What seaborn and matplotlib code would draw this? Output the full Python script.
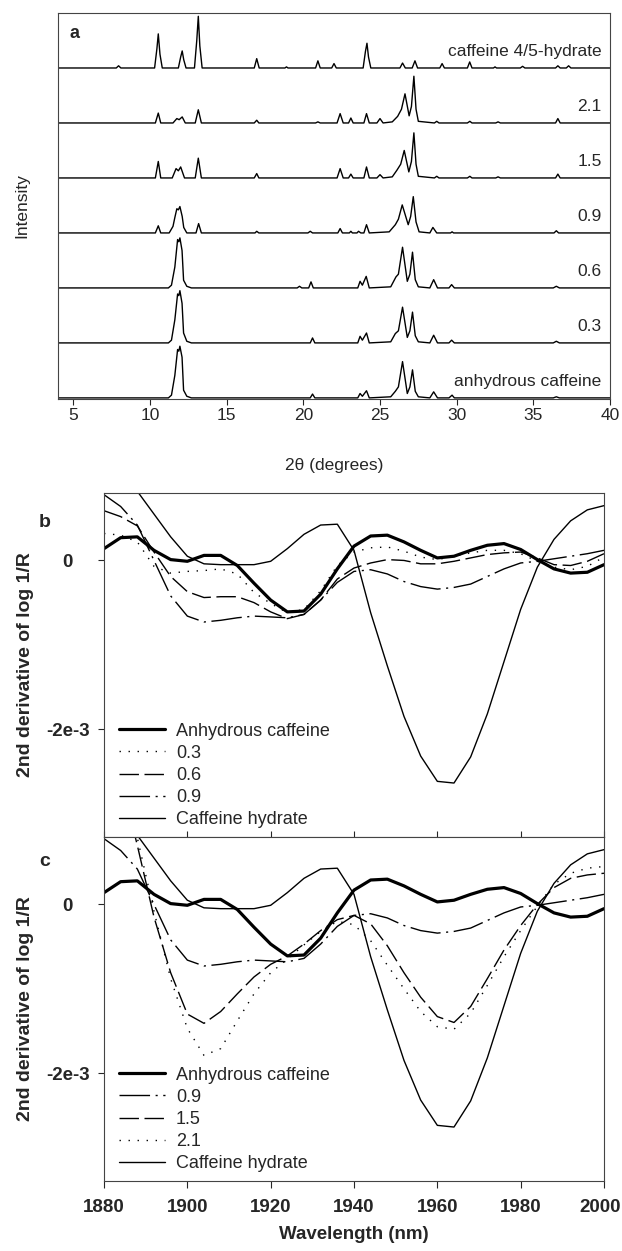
import numpy as np
import pandas as pd
import matplotlib
matplotlib.use('Agg')
import matplotlib.pyplot as plt
import matplotlib.transforms as mtransforms
import seaborn as sns

# ---- panel a: powder XRD traces, (2theta, intensity above own baseline) ----
xrd_hydrate = [(4.0, 0), (7.8, 0), (7.95, 0.04), (8.1, 0),
               (10.3, 0), (10.45, 0.35), (10.54, 0.62), (10.65, 0.25), (10.8, 0),
               (11.85, 0), (12.0, 0.2), (12.1, 0.31), (12.2, 0.15), (12.35, 0),
               (12.9, 0), (13.05, 0.5), (13.15, 0.94), (13.25, 0.4), (13.4, 0),
               (16.8, 0), (16.96, 0.17), (17.12, 0), (18.8, 0), (18.9, 0.02), (19.0, 0),
               (20.8, 0), (20.95, 0.13), (21.1, 0), (21.85, 0), (22.0, 0.08), (22.15, 0),
               (23.9, 0), (24.05, 0.3), (24.15, 0.45), (24.25, 0.2), (24.4, 0),
               (26.3, 0), (26.47, 0.09), (26.65, 0), (27.1, 0), (27.28, 0.13), (27.45, 0),
               (28.9, 0), (29.05, 0.08), (29.2, 0), (30.7, 0), (30.85, 0.11), (31.0, 0),
               (32.4, 0), (32.5, 0.02), (32.6, 0), (34.15, 0), (34.3, 0.03), (34.45, 0),
               (36.45, 0), (36.6, 0.04), (36.75, 0), (37.15, 0), (37.3, 0.04), (37.45, 0),
               (40.0, 0)]
xrd_21 = [(4.0, 0), (10.35, 0), (10.54, 0.18), (10.7, 0),
          (11.5, 0), (11.75, 0.08), (11.9, 0.06), (12.1, 0.11), (12.3, 0),
          (12.95, 0), (13.15, 0.24), (13.35, 0), (16.8, 0), (16.96, 0.05), (17.1, 0),
          (20.8, 0), (20.95, 0.02), (21.1, 0),
          (22.2, 0), (22.4, 0.17), (22.6, 0), (22.95, 0), (23.1, 0.09), (23.25, 0),
          (23.95, 0), (24.12, 0.17), (24.3, 0), (24.8, 0), (25.0, 0.08), (25.2, 0),
          (25.8, 0.02), (26.15, 0.12), (26.4, 0.25), (26.63, 0.53), (26.9, 0.13),
          (27.05, 0.3), (27.21, 0.85), (27.35, 0.25), (27.5, 0.03),
          (28.55, 0), (28.7, 0.03), (28.85, 0), (30.7, 0), (30.86, 0.03), (31.0, 0),
          (32.55, 0), (32.7, 0.02), (32.85, 0), (36.45, 0), (36.6, 0.08), (36.75, 0),
          (40.0, 0)]
xrd_15 = [(4.0, 0), (10.35, 0), (10.54, 0.30), (10.7, 0),
          (11.45, 0), (11.7, 0.17), (11.85, 0.13), (12.0, 0.20), (12.25, 0),
          (12.95, 0), (13.15, 0.36), (13.35, 0), (16.8, 0), (16.96, 0.08), (17.1, 0),
          (22.2, 0), (22.4, 0.17), (22.6, 0), (22.95, 0), (23.1, 0.07), (23.25, 0),
          (23.95, 0), (24.12, 0.20), (24.3, 0), (24.8, 0), (25.0, 0.06), (25.2, 0),
          (25.8, 0.02), (26.1, 0.14), (26.35, 0.25), (26.58, 0.50), (26.88, 0.11),
          (27.05, 0.3), (27.21, 0.82), (27.35, 0.25), (27.5, 0.03),
          (28.55, 0), (28.7, 0.03), (28.85, 0), (30.7, 0), (30.86, 0.03), (31.0, 0),
          (32.55, 0), (32.7, 0.02), (32.85, 0), (36.45, 0), (36.6, 0.07), (36.75, 0),
          (40.0, 0)]
xrd_09 = [(4.0, 0), (10.35, 0), (10.54, 0.13), (10.7, 0),
          (11.25, 0), (11.5, 0.12), (11.62, 0.28), (11.75, 0.44), (11.85, 0.42),
          (11.95, 0.48), (12.1, 0.3), (12.2, 0.1), (12.4, 0),
          (13.0, 0), (13.17, 0.17), (13.35, 0), (16.85, 0), (16.96, 0.03), (17.1, 0),
          (20.3, 0), (20.45, 0.03), (20.6, 0),
          (22.25, 0), (22.4, 0.08), (22.55, 0), (23.0, 0), (23.1, 0.03), (23.2, 0),
          (23.5, 0), (23.6, 0.03), (23.75, 0), (23.95, 0), (24.12, 0.15), (24.3, 0),
          (25.6, 0.02), (26.0, 0.15), (26.2, 0.25), (26.45, 0.51), (26.84, 0.15),
          (27.0, 0.3), (27.17, 0.66), (27.35, 0.2), (27.55, 0.02),
          (28.25, 0), (28.45, 0.10), (28.7, 0), (29.6, 0), (29.7, 0.02), (29.8, 0),
          (36.35, 0), (36.5, 0.04), (36.65, 0), (40.0, 0)]
xrd_06 = [(4.0, 0), (11.2, 0), (11.4, 0.05), (11.62, 0.38), (11.8, 0.88), (11.88, 0.84),
          (11.95, 0.91), (12.09, 0.68), (12.19, 0.14), (12.4, 0.03), (12.7, 0),
          (19.6, 0), (19.75, 0.03), (19.9, 0), (20.35, 0), (20.5, 0.11), (20.65, 0),
          (23.55, 0), (23.7, 0.12), (23.85, 0.05), (24.1, 0.21), (24.3, 0),
          (25.7, 0.02), (26.04, 0.20), (26.2, 0.25), (26.47, 0.74), (26.78, 0.12),
          (26.95, 0.25), (27.12, 0.65), (27.3, 0.15), (27.5, 0.02),
          (28.25, 0), (28.5, 0.15), (28.75, 0), (29.5, 0), (29.67, 0.06), (29.85, 0),
          (36.3, 0), (36.5, 0.03), (36.7, 0), (40.0, 0)]
xrd_03 = [(4.0, 0), (11.2, 0), (11.4, 0.05), (11.62, 0.42), (11.8, 0.89), (11.88, 0.86),
          (11.95, 0.95), (12.09, 0.72), (12.19, 0.18), (12.4, 0.03), (12.7, 0),
          (20.45, 0), (20.6, 0.09), (20.75, 0),
          (23.55, 0), (23.7, 0.12), (23.85, 0.05), (24.12, 0.18), (24.3, 0),
          (25.7, 0.02), (26.0, 0.17), (26.2, 0.22), (26.47, 0.65), (26.78, 0.10),
          (26.95, 0.22), (27.12, 0.56), (27.3, 0.13), (27.5, 0.02),
          (28.25, 0), (28.5, 0.14), (28.75, 0), (29.5, 0), (29.67, 0.05), (29.85, 0),
          (36.3, 0), (36.5, 0.03), (36.7, 0), (40.0, 0)]
xrd_anh = [(4.0, 0), (11.2, 0), (11.4, 0.05), (11.62, 0.41), (11.8, 0.88), (11.88, 0.85),
           (11.95, 0.94), (12.09, 0.74), (12.19, 0.14), (12.4, 0.03), (12.7, 0),
           (20.45, 0), (20.6, 0.07), (20.75, 0),
           (23.55, 0), (23.7, 0.08), (23.85, 0.03), (24.12, 0.13), (24.3, 0),
           (25.7, 0.02), (26.0, 0.12), (26.2, 0.2), (26.47, 0.66), (26.78, 0.08),
           (26.95, 0.2), (27.12, 0.51), (27.3, 0.12), (27.5, 0.02),
           (28.25, 0), (28.5, 0.11), (28.75, 0), (29.5, 0), (29.7, 0.05), (29.85, 0),
           (36.3, 0), (36.5, 0.02), (36.7, 0), (40.0, 0)]

xrd_names = ["anhydrous caffeine", "0.3", "0.6", "0.9", "1.5", "2.1", "caffeine 4/5-hydrate"]
xrd_traces = [xrd_anh, xrd_03, xrd_06, xrd_09, xrd_15, xrd_21, xrd_hydrate]

# ---- panels b, c: NIR 2nd derivative of log 1/R (units of 1e-3) ----
wavelength = np.arange(1880, 2001, 4)
nir_anhydrous = [0.14, 0.27, 0.28, 0.12, 0.01, -0.01, 0.06, 0.06, -0.06, -0.27, -0.47,
                 -0.61, -0.60, -0.40, -0.10, 0.17, 0.29, 0.30, 0.22, 0.12, 0.03, 0.05,
                 0.12, 0.18, 0.20, 0.13, 0.01, -0.10, -0.15, -0.14, -0.05]
nir_hydrate = [1.50, 1.15, 0.82, 0.55, 0.28, 0.05, -0.04, -0.05, -0.05, -0.05, -0.01,
               0.14, 0.31, 0.42, 0.43, 0.12, -0.62, -1.25, -1.85, -2.32, -2.62, -2.64,
               -2.33, -1.82, -1.20, -0.58, -0.08, 0.25, 0.47, 0.60, 0.65]
nir_03 = [0.32, 0.30, 0.22, -0.07, -0.15, -0.13, -0.12, -0.10, -0.16, -0.38, -0.51,
          -0.62, -0.58, -0.36, -0.06, 0.10, 0.15, 0.16, 0.11, 0.04, 0.01, 0.05, 0.09,
          0.12, 0.12, 0.08, -0.01, -0.08, -0.11, -0.07, 0.04]
nir_06 = [0.59, 0.52, 0.41, 0.10, -0.19, -0.37, -0.44, -0.43, -0.43, -0.50, -0.61,
          -0.69, -0.64, -0.47, -0.22, -0.09, -0.03, 0.01, 0.00, -0.04, -0.04, -0.01,
          0.03, 0.07, 0.09, 0.10, 0.03, -0.05, -0.06, -0.01, 0.08]
nir_09 = [0.78, 0.64, 0.42, 0.00, -0.42, -0.66, -0.73, -0.71, -0.68, -0.66, -0.67,
          -0.68, -0.64, -0.47, -0.26, -0.13, -0.11, -0.16, -0.25, -0.31, -0.34, -0.32,
          -0.28, -0.19, -0.10, -0.03, -0.01, 0.02, 0.05, 0.08, 0.12]
nir_15 = [2.10, 1.50, 0.70, -0.15, -0.81, -1.30, -1.41, -1.27, -1.06, -0.86, -0.71,
          -0.61, -0.47, -0.31, -0.18, -0.13, -0.23, -0.49, -0.81, -1.10, -1.33, -1.40,
          -1.21, -0.88, -0.54, -0.25, 0.00, 0.20, 0.31, 0.35, 0.37]
nir_21 = [2.10, 1.50, 0.79, -0.08, -0.88, -1.47, -1.79, -1.71, -1.38, -1.06, -0.81,
          -0.65, -0.48, -0.32, -0.20, -0.24, -0.43, -0.72, -1.00, -1.27, -1.45, -1.48,
          -1.29, -0.96, -0.62, -0.31, -0.02, 0.24, 0.37, 0.43, 0.45]

sns.set_style('ticks')
plt.rcParams['font.family'] = ['Liberation Sans', 'DejaVu Sans']
plt.rcParams['lines.scale_dashes'] = False
plt.rcParams['axes.edgecolor'] = '#444444'
plt.rcParams['axes.linewidth'] = 0.8

W, H = 622, 1251
fig = plt.figure(figsize=(W / 100, H / 100), dpi=100)
ax_a = fig.add_axes([58 / W, 1 - 399 / H, 552 / W, 386 / H])
ax_b = fig.add_axes([104 / W, 1 - 837 / H, 500 / W, 344 / H])
ax_c = fig.add_axes([104 / W, 1 - 1181 / H, 500 / W, 344 / H])

# panel a
for i, (name, pts) in enumerate(zip(xrd_names, xrd_traces)):
    df = pd.DataFrame(pts, columns=['two_theta', 'intensity'])
    df['intensity'] = df['intensity'] + i
    sns.lineplot(data=df, x='two_theta', y='intensity', ax=ax_a, color='black',
                 linewidth=1.0, estimator=None, sort=False)
    ax_a.text(39.45, i + 0.3, name, ha='right', va='center', fontsize=12.5)

ax_a.set_xlim(4, 40)
ax_a.set_ylim(-0.02, 7.0)
ax_a.set_xticks(range(5, 41, 5))
ax_a.set_yticks([])
ax_a.tick_params(axis='x', direction='out', length=4, width=0.8, pad=2.5, labelsize=12.5)
ax_a.set_xlabel('2θ (degrees)', fontsize=12.5, labelpad=25)
ax_a.set_ylabel('Intensity', fontsize=12.5)
ax_a.yaxis.set_label_coords(-0.051, 0.5)
fig.text(74 / W, 1 - 33 / H, 'a', fontsize=13, fontweight='bold', ha='center', va='center')

# panels b, c
thick = dict(color='black', linewidth=2.3)
thin = dict(color='black', linewidth=1.0)
dot = (0, (1, 5.5))
dash = (0, (14, 4))
dashdot = (0, (22, 4, 1.5, 4))

series_b = [("Anhydrous caffeine", nir_anhydrous, thick, '-'),
            ("0.3", nir_03, thin, dot),
            ("0.6", nir_06, thin, dash),
            ("0.9", nir_09, thin, dashdot),
            ("Caffeine hydrate", nir_hydrate, thin, '-')]
series_c = [("Anhydrous caffeine", nir_anhydrous, thick, '-'),
            ("0.9", nir_09, thin, dashdot),
            ("1.5", nir_15, thin, dash),
            ("2.1", nir_21, thin, dot),
            ("Caffeine hydrate", nir_hydrate, thin, '-')]

for ax, series, tag, ty in [(ax_b, series_b, 'b', 523), (ax_c, series_c, 'c', 862)]:
    for name, vals, kw, ls in series:
        sns.lineplot(x=wavelength, y=np.array(vals) * 1e-3, ax=ax, linestyle=ls,
                     label=name, **kw)
    ax.set_xlim(1880, 2000)
    ax.set_ylim(-3.28e-3, 0.80e-3)
    ax.set_xticks(range(1880, 2001, 20))
    ax.set_yticks([-2e-3, 0])
    ax.set_yticklabels(['-2e-3', '0'])
    ax.tick_params(axis='y', direction='out', length=4, width=0.8, pad=22,
                   labelsize=13.5)
    for lbl in ax.get_yticklabels():
        lbl.set_fontweight('bold')
        lbl.set_horizontalalignment('center')
    ax.set_ylabel('2nd derivative of log 1/R', fontsize=14, fontweight='bold')
    ax.yaxis.set_label_coords(-0.14, 0.5)
    ax.legend(loc='lower left', bbox_to_anchor=(0.012, 0.0), frameon=False,
              fontsize=13, handlelength=2.55, handletextpad=0.6, labelspacing=0.28,
              borderaxespad=0.3, borderpad=0.2)
    fig.text(45 / W, 1 - ty / H, tag, fontsize=14, fontweight='bold',
             ha='center', va='center')

ax_b.tick_params(axis='x', direction='in', length=4, width=0.8, labelbottom=False)
ax_c.tick_params(axis='x', direction='out', length=5, width=0.8, pad=8,
                 labelsize=13.5)
for lbl in ax_c.get_xticklabels():
    lbl.set_fontweight('bold')
# nudge the last tick label a little so it stays inside the canvas
last = ax_c.get_xticklabels()[-1]
last.set_transform(last.get_transform() +
                   mtransforms.ScaledTranslation(-4 / 100, 0, fig.dpi_scale_trans))
ax_c.set_xlabel('Wavelength (nm)', fontsize=13.5, fontweight='bold', labelpad=7)

fig.savefig('out.png', dpi=100)
